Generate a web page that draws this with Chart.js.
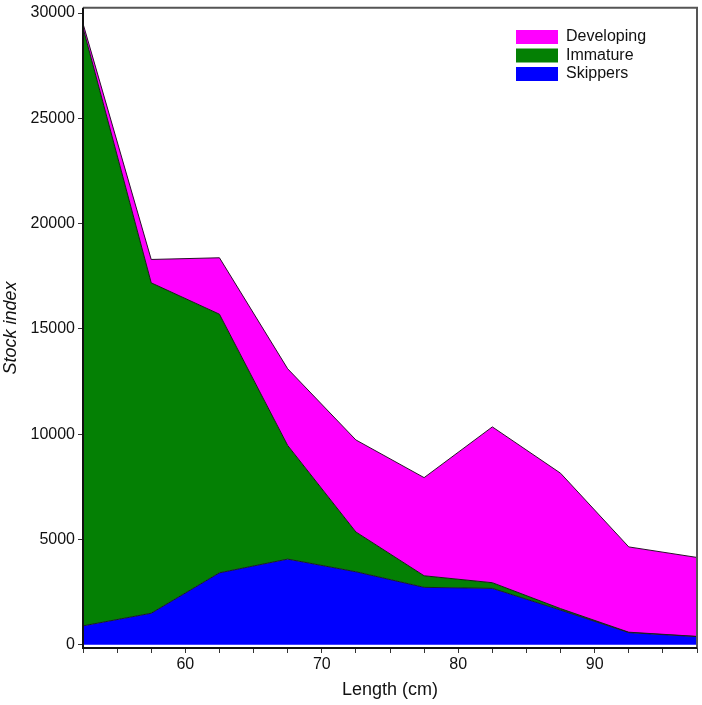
<!DOCTYPE html>
<html>
<head>
<meta charset="utf-8">
<script src="https://cdn.jsdelivr.net/npm/chart.js@4.4.0/dist/chart.umd.min.js"></script>
<style>
  html, body { margin: 0; padding: 0; background: #fff; }
  #wrap { width: 702px; height: 705px; position: relative; }
</style>
</head>
<body>
<div id="wrap"><canvas id="stockChart"></canvas></div>
<script>
// --- data ---
const lengths = [52.5, 57.5, 62.5, 67.5, 72.5, 77.5, 82.5, 87.5, 92.5, 97.5];
const skippers = [900, 1500, 3420, 4070, 3470, 2730, 2680, 1650, 580, 390];
const immature = [28400, 15690, 12280, 5400, 1890, 550, 270, 70, 20, 10];
const developing = [200, 1110, 2680, 3640, 4370, 4660, 7400, 6430, 4050, 3750];
const yTicks = [0, 5000, 10000, 15000, 20000, 25000, 30000];
const xLabelTicks = [60, 70, 80, 90];

const FONT = "'Liberation Sans', Arial, sans-serif";

function toPoints(arr) {
    return arr.map((v, i) => ({ x: lengths[i], y: v }));
}

// frame round the plot area: dark axes left/bottom, grey top/right
const framePlugin = {
    id: 'frame',
    afterDatasetsDraw(chart) {
        const a = chart.chartArea;
        const ctx = chart.ctx;
        ctx.save();
        ctx.lineWidth = 2;
        ctx.strokeStyle = '#555';
        ctx.beginPath();
        ctx.moveTo(a.left, a.top);
        ctx.lineTo(a.right, a.top);
        ctx.lineTo(a.right, a.bottom);
        ctx.stroke();
        ctx.strokeStyle = '#111';
        ctx.beginPath();
        ctx.moveTo(a.left, a.top);
        ctx.lineTo(a.left, a.bottom);
        ctx.lineTo(a.right, a.bottom);
        ctx.stroke();
        ctx.restore();
    }
};

// legend drawn inside the plot, top right
const innerLegend = {
    id: 'innerLegend',
    afterDraw(chart) {
        const ctx = chart.ctx;
        const items = chart.data.datasets.slice().reverse();
        ctx.save();
        ctx.font = '16px ' + FONT;
        ctx.textBaseline = 'middle';
        items.forEach((ds, i) => {
            const y = 30 + i * 18.5;
            ctx.fillStyle = ds.backgroundColor;
            ctx.fillRect(516, y, 42, 14);
            ctx.fillStyle = '#111';
            ctx.fillText(ds.label, 566, y + 7);
        });
        ctx.restore();
    }
};

const ctx = document.getElementById('stockChart');
new Chart(ctx, {
    type: 'line',
    data: {
        datasets: [
            {
                label: 'Skippers',
                data: toPoints(skippers),
                backgroundColor: '#0000FF',
                borderColor: '#1a1a2a',
                borderWidth: 1,
                fill: 'origin',
                pointRadius: 0,
                tension: 0
            },
            {
                label: 'Immature',
                data: toPoints(immature),
                backgroundColor: '#048004',
                borderColor: '#1a1a1a',
                borderWidth: 1,
                fill: '-1',
                pointRadius: 0,
                tension: 0
            },
            {
                label: 'Developing',
                data: toPoints(developing),
                backgroundColor: '#FF00FF',
                borderColor: '#2a102a',
                borderWidth: 1,
                fill: '-1',
                pointRadius: 0,
                tension: 0
            }
        ]
    },
    options: {
        responsive: true,
        maintainAspectRatio: false,
        animation: false,
        layout: { padding: { top: 6, right: 5, left: 0, bottom: 0 } },
        plugins: {
            legend: { display: false },
            tooltip: { enabled: false }
        },
        scales: {
            x: {
                type: 'linear',
                min: 52.5,
                max: 97.5,
                afterBuildTicks(scale) {
                    const t = [];
                    for (let v = 52.5; v <= 97.5; v += 2.5) t.push({ value: v });
                    scale.ticks = t;
                },
                afterFit(scale) { scale.height = 57; },
                grid: { drawOnChartArea: false, tickLength: 5, color: '#333' },
                border: { display: false },
                ticks: {
                    autoSkip: false,
                    maxRotation: 0,
                    padding: 2,
                    color: '#111',
                    font: { family: FONT, size: 16 },
                    callback: v => xLabelTicks.includes(v) ? String(v) : ''
                },
                title: {
                    display: true,
                    text: 'Length (cm)',
                    color: '#111',
                    font: { family: FONT, size: 18 },
                    padding: { top: 0, bottom: 4 }
                }
            },
            y: {
                stacked: true,
                min: -150,
                max: 30250,
                afterBuildTicks(scale) {
                    scale.ticks = yTicks.map(v => ({ value: v }));
                },
                afterFit(scale) { scale.width = 83; },
                grid: { drawOnChartArea: false, tickLength: 5, color: '#333' },
                border: { display: false },
                ticks: {
                    padding: 3,
                    color: '#111',
                    font: { family: FONT, size: 16, lineHeight: 0.6 },
                    callback: v => String(v)
                },
                title: {
                    display: true,
                    text: 'Stock index',
                    color: '#111',
                    font: { family: FONT, size: 18, style: 'italic' },
                    padding: { top: 0, bottom: 2 }
                }
            }
        }
    },
    plugins: [framePlugin, innerLegend]
});
</script>
</body>
</html>
